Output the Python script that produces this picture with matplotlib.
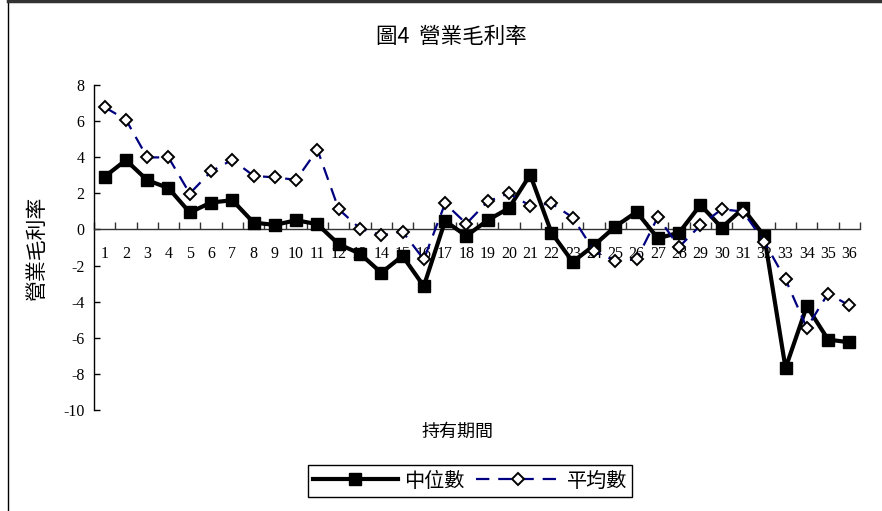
import matplotlib
matplotlib.use("Agg")
import matplotlib.pyplot as plt
from matplotlib.lines import Line2D

plt.rcParams['axes.unicode_minus'] = False
CJK = ['Noto Sans CJK TC', 'DejaVu Sans']
NUM = ['Liberation Serif', 'DejaVu Serif']

periods = list(range(1, 37))
median = [2.92, 3.84, 2.73, 2.29, 0.94, 1.49, 1.62, 0.38, 0.25, 0.51,
          0.29, -0.82, -1.34, -2.40, -1.47, -3.14, 0.47, -0.36, 0.51, 1.18,
          3.03, -0.18, -1.80, -0.88, 0.16, 0.97, -0.49, -0.18, 1.36, 0.10,
          1.16, -0.36, -7.68, -4.25, -6.10, -6.25]
mean = [6.77, 6.08, 3.99, 3.99, 1.99, 3.21, 3.86, 2.97, 2.88, 2.75,
        4.42, 1.12, 0.05, -0.32, -0.12, -1.66, 1.44, 0.32, 1.55, 2.00,
        1.31, 1.44, 0.66, -1.19, -1.75, -1.66, 0.69, -0.97, 0.23, 1.12,
        0.99, -0.68, -2.77, -5.45, -3.55, -4.21]
y_ticks = list(range(-10, 9, 2))

W, H = 882, 511
fig = plt.figure(figsize=(W / 100, H / 100), dpi=100)

# frame lines along top and left edge
fig.add_artist(Line2D([8 / W, 8 / W], [0, 1 - 1 / H], color='black', lw=1.0,
                      transform=fig.transFigure))
fig.add_artist(Line2D([8 / W, 1], [1 - 1.5 / H, 1 - 1.5 / H], color='#333333', lw=2.5,
                      transform=fig.transFigure))

left, right, top, bottom = 94, 860, 85, 410
ax = fig.add_axes([left / W, 1 - bottom / H, (right - left) / W, (bottom - top) / H])

ax.plot(periods, median, color='black', lw=3.0, marker='s', markersize=8,
        markerfacecolor='black', markeredgecolor='black', label='中位數', zorder=3)
ax.plot(periods, mean, color='#000080', lw=1.6, dashes=(6, 4), marker='D',
        markersize=6.5, markerfacecolor='white', markeredgecolor='black',
        markeredgewidth=1.4, label='平均數', zorder=4)

ax.set_xlim(0.5, 36.5)
ax.set_ylim(-10, 8)

for s in ['top', 'right']:
    ax.spines[s].set_visible(False)
ax.spines['left'].set_linewidth(1.0)
ax.spines['bottom'].set_position(('data', 0))
ax.spines['bottom'].set_linewidth(1.0)
ax.spines['bottom'].set_color('#333333')

ax.set_yticks(y_ticks)
ax.set_yticklabels([str(v) for v in y_ticks], fontfamily=NUM, fontsize=11.5)
ax.tick_params(axis='y', direction='in', length=4, width=1, pad=7)

ax.set_xticks(periods)
ax.set_xticklabels([str(p) for p in periods], fontfamily=NUM, fontsize=11.5)
ax.set_xticks([p + 0.5 for p in range(0, 37)], minor=True)
ax.tick_params(axis='x', which='major', length=0, pad=12)
ax.tick_params(axis='x', which='minor', direction='in', length=5, width=1, color='#333333')

fig.text(451 / W, 1 - 37 / H, '圖4  營業毛利率', family=CJK, fontsize=15.5,
         ha='center', va='center')
fig.text(37 / W, 1 - 249 / H, '營業毛利率', family=CJK, fontsize=15,
         rotation=90, ha='center', va='center')
fig.text(457 / W, 1 - 432 / H, '持有期間', family=CJK, fontsize=13,
         ha='center', va='center')

leg = ax.legend(loc='center', bbox_to_anchor=(470 / W, 1 - 481 / H),
                bbox_transform=fig.transFigure, ncol=2, frameon=True,
                fancybox=False, edgecolor='black', framealpha=1,
                prop={'family': CJK, 'size': 14.5}, handlelength=4.2,
                columnspacing=0.6, handletextpad=0.3, borderpad=0.25,
                borderaxespad=0)
leg.get_frame().set_linewidth(1.0)

fig.savefig('out.png', dpi=100)
